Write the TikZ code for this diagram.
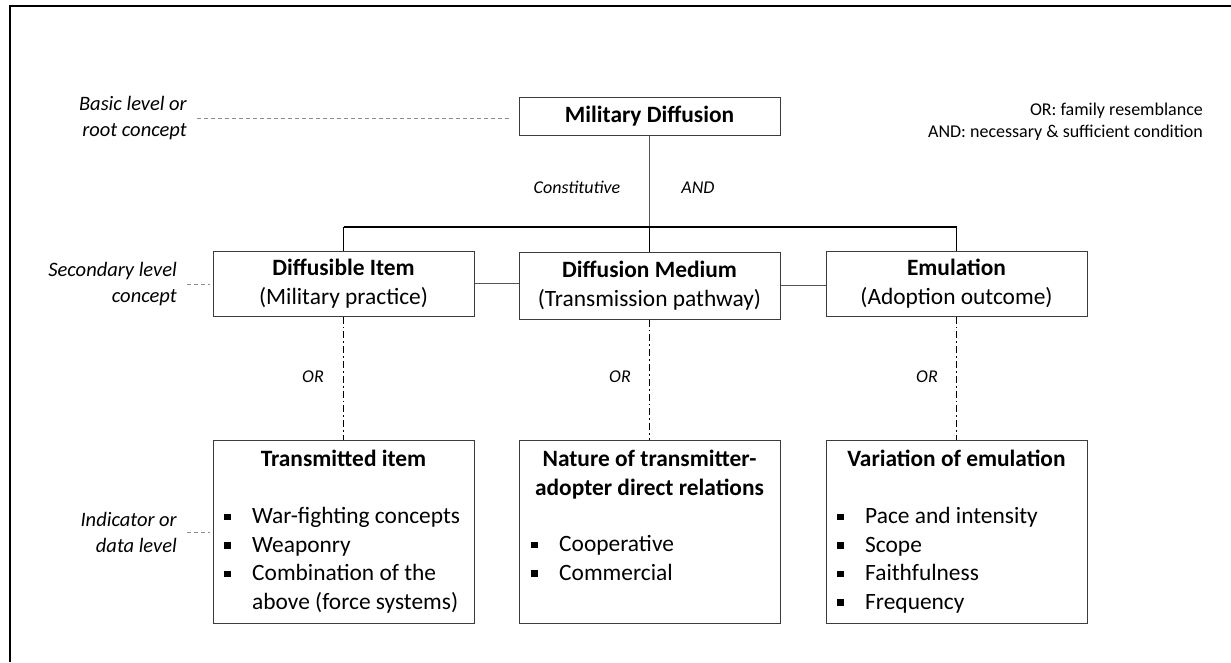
\documentclass[tikz,border=0pt]{standalone}
\usepackage{fontspec}
\setmainfont{Carlito}
\definecolor{boxgray}{HTML}{3C3C3C}
\definecolor{guidegray}{HTML}{8C8C8C}
\definecolor{stemgray}{HTML}{555555}
\newcommand\mybody{\fontsize{23.4}{28.5}\selectfont}
\newcommand\mylevel{\fontsize{20.5}{26}\selectfont\itshape}
\newcommand\mynote{\fontsize{18}{22}\selectfont}
\newcommand\itm[1]{\makebox[28pt][l]{\raisebox{3.5pt}{\rule{6.5pt}{6.5pt}}}#1}
\begin{document}
\begin{tikzpicture}[x=1pt,y=-1pt,
  box/.style={draw=boxgray, line width=1pt, inner sep=0pt, minimum width=261pt,
    align=center, font=\mybody},
  boxtext/.style={inner sep=0pt, font=\mybody},
  itemlist/.style={inner sep=0pt, font=\mybody, align=left},
  level/.style={inner sep=0pt, font=\mylevel, align=right},
  note/.style={inner sep=0pt, font=\mynote\itshape},
  legend/.style={inner sep=0pt, font=\mynote, align=right},
  frameline/.style={line width=1.3pt, black},
  guide/.style={guidegray, line width=0.9pt, dash pattern=on 4pt off 3pt},
  stem/.style={stemgray, line width=1.3pt},
  bar/.style={black, line width=1.8pt},
  link/.style={stemgray, line width=1.3pt},
  ordash/.style={black, line width=1.8pt, dash pattern=on 7pt off 3pt on 1.8pt off 3pt}
]
\useasboundingbox (0,0) rectangle (1231,662);

% partial frame (left and top edges)
\draw[frameline] (10,662) -- (10,6) -- (1231,6);

% concept boxes
\node[box, minimum height=38pt] (md) at (649.5,116) {\textbf{Military Diffusion}};
\node[box, minimum height=65pt] (di) at (343.5,283.5) {\textbf{Diffusible Item}\\(Military practice)};
\node[box, minimum height=67pt] (dm) at (649.5,285.5) {\textbf{Diffusion Medium}\\(Transmission pathway)};
\node[box, minimum height=65pt] (em) at (956.5,283.5) {\textbf{Emulation}\\(Adoption outcome)};
\node[box, minimum height=183pt] (ti) at (343.5,531.5) {};
\node[box, minimum height=183pt] (nt) at (649.5,531.5) {};
\node[box, minimum height=183pt] (ve) at (956.5,531.5) {};

% indicator box contents (base anchor = baseline of the last line)
\node[boxtext, anchor=base] (tit) at (343.5,466) {\textbf{Transmitted item}};
\node[itemlist, anchor=base west] (til) at (224,609)
  {\itm{War-fighting concepts}\\\itm{Weaponry}\\\itm{Combination of the}\\\hspace*{28pt}above (force systems)};
\node[boxtext, anchor=base, align=center] (ntt) at (649.5,495)
  {\textbf{Nature of transmitter-}\\\textbf{adopter direct relations}};
\node[itemlist, anchor=base west] (ntl) at (531,580)
  {\itm{Cooperative}\\\itm{Commercial}};
\node[boxtext, anchor=base] (vet) at (956.5,466) {\textbf{Variation of emulation}};
\node[itemlist, anchor=base west] (vel) at (837,609)
  {\itm{Pace and intensity}\\\itm{Scope}\\\itm{Faithfulness}\\\itm{Frequency}};

% level labels
\node[level, anchor=base east] (lbasic) at (187,136.5) {Basic level or\\root concept};
\node[level, anchor=base east] (lsec) at (177,302.5) {Secondary level\\concept};
\node[level, anchor=base east] (lind) at (177,552.5) {Indicator or\\data level};

% legend
\node[legend, anchor=base east] (leg) at (1203,137) {OR: family resemblance\\AND: necessary \& sufficient condition};

% tree connectors
\coordinate (jl) at (343.5,227);
\coordinate (jn) at (649.5,227);
\coordinate (jr) at (956.5,227);
\draw[stem] (md) -- (jn);
\draw[bar] (jl) -- (jr);
\draw[bar] (jl) -- (di);
\draw[bar] (jn) -- (dm);
\draw[bar] (jr) -- (em);
\node[note] (constit) at (577,187) {Constitutive};
\node[note] (andlbl) at (698,188) {AND};

% links between secondary concepts
\draw[link] (di.east) -- (di.east -| dm.west);
\draw[link] (dm.east) -- (dm.east -| em.west);

% OR links to indicators
\draw[ordash] (di) -- (ti);
\draw[ordash] (dm) -- (nt);
\draw[ordash] (em) -- (ve);
\node[note] (or1) at (313,377) {OR};
\node[note] (or2) at (620,377) {OR};
\node[note] (or3) at (927,377) {OR};

% guides from level labels
\draw[guide] ([xshift=10pt]lbasic.east) -- ([xshift=-9pt]lbasic.east -| md.west);
\draw[guide] ([xshift=10pt]lsec.east) -- ([xshift=-3pt]lsec.east -| di.west);
\draw[guide] ([xshift=10pt]lind.east) -- ([xshift=-3pt]lind.east -| ti.west);
\end{tikzpicture}
\end{document}
